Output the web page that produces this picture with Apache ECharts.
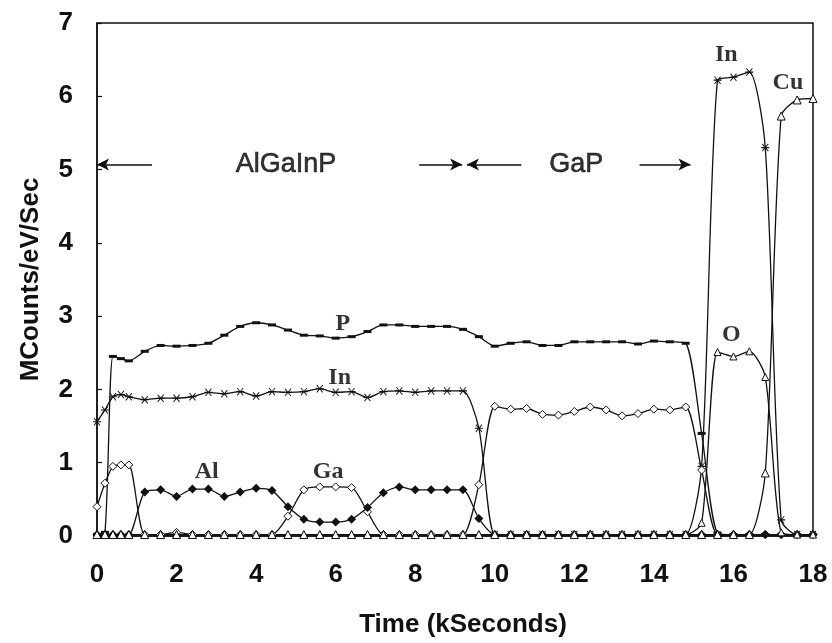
<!DOCTYPE html>
<html>
<head>
<meta charset="utf-8">
<title>AES depth profile</title>
<script src="https://cdn.jsdelivr.net/npm/echarts@6/dist/echarts.min.js"></script>
<style>
  html, body { margin: 0; padding: 0; background: #fff; }
  #chart { width: 832px; height: 643px; }
</style>
</head>
<body>
<div id="chart"></div>
<script>
// Sputter time (kSeconds) of each sample
const timeK = [0, 0.2, 0.4, 0.6, 0.8, 1.2, 1.6, 2.0, 2.4, 2.8, 3.2, 3.6, 4.0, 4.4, 4.8,
  5.2, 5.6, 6.0, 6.4, 6.8, 7.2, 7.6, 8.0, 8.4, 8.8, 9.2, 9.6, 10.0, 10.4, 10.8, 11.2,
  11.6, 12.0, 12.4, 12.8, 13.2, 13.6, 14.0, 14.4, 14.8, 15.2, 15.6, 16.0, 16.4, 16.8,
  17.2, 17.6, 18.0];

// Signal of each element (MCounts/eV/Sec)
const pCounts = [0.02, 0.05, 2.45, 2.42, 2.39, 2.52, 2.60, 2.59, 2.60, 2.63, 2.74, 2.86, 2.91, 2.88, 2.81,
  2.74, 2.73, 2.70, 2.72, 2.79, 2.88, 2.88, 2.86, 2.86, 2.86, 2.82, 2.72, 2.59, 2.63, 2.65, 2.60,
  2.60, 2.65, 2.65, 2.65, 2.65, 2.62, 2.66, 2.65, 2.63, 1.40, 0.04, 0.02, 0.02, 0.02,
  0.02, 0.02, 0.02];

const inCounts = [1.56, 1.72, 1.90, 1.93, 1.90, 1.86, 1.88, 1.88, 1.90, 1.96, 1.94, 1.97, 1.91, 1.97, 1.96,
  1.97, 2.01, 1.96, 1.97, 1.89, 1.97, 1.98, 1.96, 1.98, 1.98, 1.98, 1.47, 0.02, 0.02, 0.02, 0.02,
  0.02, 0.02, 0.02, 0.02, 0.02, 0.02, 0.02, 0.02, 0.02, 0.95, 6.22, 6.26, 6.33, 5.30,
  0.22, 0.02, 0.02];

const gaCounts = [0.40, 0.72, 0.95, 0.97, 0.97, 0.02, 0.02, 0.05, 0.02, 0.02, 0.02, 0.02, 0.02, 0.02, 0.27,
  0.63, 0.67, 0.67, 0.66, 0.33, 0.02, 0.02, 0.02, 0.02, 0.02, 0.02, 0.70, 1.77, 1.73, 1.74, 1.66,
  1.65, 1.70, 1.76, 1.72, 1.64, 1.67, 1.73, 1.72, 1.76, 0.90, 0.02, 0.02, 0.02, 0.02,
  0.02, 0.02, 0.02];

const alCounts = [0.02, 0.02, 0.02, 0.02, 0.02, 0.60, 0.63, 0.54, 0.64, 0.64, 0.54, 0.60, 0.65, 0.62, 0.40,
  0.23, 0.19, 0.19, 0.23, 0.39, 0.59, 0.67, 0.63, 0.63, 0.63, 0.63, 0.24, 0.02, 0.02, 0.02, 0.02,
  0.02, 0.02, 0.02, 0.02, 0.02, 0.02, 0.02, 0.02, 0.02, 0.02, 0.02, 0.02, 0.02, 0.02,
  0.02, 0.02, 0.02];

const oCounts = [0.02, 0.02, 0.02, 0.02, 0.02, 0.02, 0.02, 0.02, 0.02, 0.02, 0.02, 0.02, 0.02, 0.02, 0.02,
  0.02, 0.02, 0.02, 0.02, 0.02, 0.02, 0.02, 0.02, 0.02, 0.02, 0.02, 0.02, 0.02, 0.02, 0.02, 0.02,
  0.02, 0.02, 0.02, 0.02, 0.02, 0.02, 0.02, 0.02, 0.02, 0.18, 2.51, 2.45, 2.52, 2.17,
  0.05, 0.02, 0.02];

const cuCounts = [0.02, 0.02, 0.02, 0.02, 0.02, 0.02, 0.02, 0.02, 0.02, 0.02, 0.02, 0.02, 0.02, 0.02, 0.02,
  0.02, 0.02, 0.02, 0.02, 0.02, 0.02, 0.02, 0.02, 0.02, 0.02, 0.02, 0.02, 0.02, 0.02, 0.02, 0.02,
  0.02, 0.02, 0.02, 0.02, 0.02, 0.02, 0.02, 0.02, 0.02, 0.02, 0.02, 0.02, 0.02, 0.86,
  5.73, 5.95, 5.97];

// Axis ticks
const xTicks = [0, 2, 4, 6, 8, 10, 12, 14, 16, 18];
const yTicks = [0, 1, 2, 3, 4, 5, 6, 7];

// Element names written beside their curves: [text, time, counts]
const curveNames = [
  ['P', 6.18, 2.9], ['In', 6.1, 2.16], ['Al', 2.76, 0.87], ['Ga', 5.81, 0.88],
  ['In', 15.82, 6.56], ['Cu', 17.37, 6.19], ['O', 15.95, 2.74]
];

// Layer names and their extent arrows: [text, time, counts]
const layerNames = [['AlGaInP', 4.75, 5.07], ['GaP', 12.05, 5.07]];
const layerArrows = [[1.38, 0], [8.1, 9.18], [10.67, 9.3], [13.64, 14.92]];
const arrowLevel = 5.07;

const INK = '#111';
const SANS = 'Liberation Sans, Arial, sans-serif';
const SERIF = 'Liberation Serif, Times New Roman, serif';

const asterisk = 'path://M0,4.4L10,4.4L10,5.6L0,5.6Z M1.6,0.6L9.2,8.6L8.4,9.4L0.8,1.4Z M8.4,0.6L9.2,1.4L1.6,9.4L0.8,8.6Z';

function profile(name, values, symbol, size, hollow) {
  return {
    name: name,
    type: 'line',
    smooth: 0.25,
    data: timeK.map((t, i) => [t, values[i]]),
    symbol: symbol,
    symbolSize: size,
    showAllSymbol: true,
    lineStyle: { color: INK, width: 1.3 },
    itemStyle: hollow
      ? { color: '#fff', borderColor: INK, borderWidth: 1 }
      : { color: INK, borderWidth: 0 },
    z: 3
  };
}

const series = [
  profile('P', pCounts, 'rect', [8, 3], false),
  profile('In', inCounts, asterisk, 8, false),
  profile('Ga', gaCounts, 'diamond', 8, true),
  profile('Al', alCounts, 'diamond', 9, false),
  profile('O', oCounts, 'triangle', 7, true),
  profile('Cu', cuCounts, 'triangle', 8, true),
  {
    name: 'curveNames',
    type: 'scatter',
    symbolSize: 0,
    silent: true,
    itemStyle: { color: '#000' },
    data: curveNames.map(d => ({ value: [d[1], d[2]], name: d[0] })),
    label: {
      show: true, position: 'inside', formatter: '{b}',
      fontFamily: SERIF, fontSize: 24, fontWeight: 'bold', color: '#000',
      textBorderWidth: 0
    },
    z: 5
  },
  {
    name: 'layers',
    type: 'scatter',
    symbolSize: 0,
    silent: true,
    itemStyle: { color: '#000' },
    data: layerNames.map(d => ({ value: [d[1], d[2]], name: d[0] })),
    label: {
      show: true, position: 'inside', formatter: '{b}',
      fontFamily: SANS, fontSize: 27, color: '#000',
      textBorderColor: '#000', textBorderWidth: 0.6
    },
    markLine: {
      silent: true,
      symbol: ['none', 'arrow'],
      symbolSize: [9, 12],
      label: { show: false },
      lineStyle: { color: INK, width: 1.6, type: 'solid' },
      data: layerArrows.map(a => [{ coord: [a[0], arrowLevel] }, { coord: [a[1], arrowLevel] }])
    },
    z: 5
  }
];

const chart = echarts.init(document.getElementById('chart'), null, { renderer: 'canvas' });
chart.setOption({
  animation: false,
  backgroundColor: '#fff',
  grid: {
    left: 97, right: 19, top: 23, bottom: 107,
    show: true, borderColor: INK, borderWidth: 1.5, backgroundColor: 'transparent'
  },
  xAxis: {
    type: 'value',
    min: xTicks[0], max: xTicks[xTicks.length - 1], interval: xTicks[1] - xTicks[0],
    name: 'Time (kSeconds)',
    nameLocation: 'middle',
    nameGap: 76,
    nameTextStyle: { fontFamily: SANS, fontSize: 26, fontWeight: 'bold', color: INK, padding: [0, 0, 0, 16] },
    axisLine: { lineStyle: { color: INK, width: 1.5 } },
    axisTick: { show: false },
    splitLine: { show: false },
    axisLabel: { margin: 26, fontFamily: SANS, fontSize: 26, fontWeight: 'bold', color: INK }
  },
  yAxis: {
    type: 'value',
    min: yTicks[0], max: yTicks[yTicks.length - 1], interval: yTicks[1] - yTicks[0],
    name: 'MCounts/eV/Sec',
    nameLocation: 'middle',
    nameGap: 53,
    nameTextStyle: { fontFamily: SANS, fontSize: 26, fontWeight: 'bold', color: INK },
    axisLine: { lineStyle: { color: INK, width: 1.5 } },
    axisTick: { show: true, inside: true, length: 5, lineStyle: { color: INK, width: 1.2 } },
    splitLine: { show: false },
    axisLabel: { margin: 24, fontFamily: SANS, fontSize: 26, fontWeight: 'bold', color: INK }
  },
  series: series
});
</script>
</body>
</html>
